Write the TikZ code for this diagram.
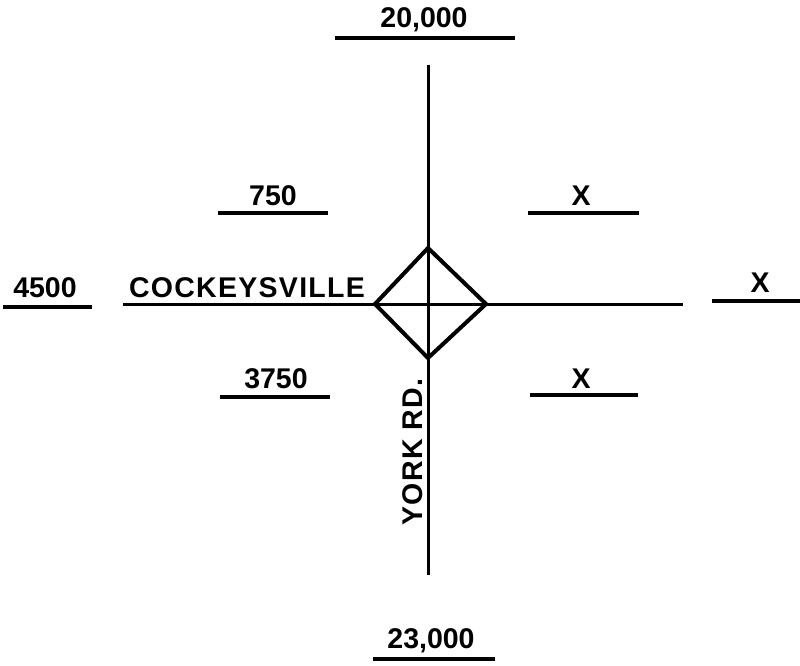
\documentclass[tikz,border=0pt]{standalone}
\usepackage{fontspec}
\setmainfont{Liberation Sans}
\newfontfamily\numfont{Liberation Sans Bold}
\newfontfamily\wordfont{Liberation Sans Bold}[LetterSpace=4.5]
\begin{document}
\begin{tikzpicture}[x=1pt,y=-1pt,
  lbl/.style={anchor=base,inner sep=0pt,font=\fontsize{28.5}{30}\numfont},
  word/.style={anchor=base,inner sep=0pt,font=\fontsize{28.5}{30}\wordfont},
  road/.style={line width=3pt},
  uline/.style={line width=3.4pt},
  ramp/.style={line width=4pt,line join=miter}]
\useasboundingbox (0,0) rectangle (800,666);

% roads
\coordinate (n) at (428,65);
\coordinate (s) at (428,575);
\coordinate (w) at (123,304);
\coordinate (e) at (683,304);
\draw[road] (n) -- (s);
\draw[road] (w) -- (e);

% interchange
\coordinate (dt) at (428,248);
\coordinate (dr) at (486,304);
\coordinate (db) at (428,358);
\coordinate (dl) at (375,304);
\draw[ramp] (dt) -- (dr) -- (db) -- (dl) -- cycle;

% road names
\node[word] (cville) at (247,297) {COCKEYSVILLE};
\node[word,rotate=90] (york) at (422,452) {YORK RD.};

% volumes
\node[lbl] (north) at (424,28) {20,000};
\draw[uline] (335,38) -- (515,38);
\node[lbl] (south) at (431,648) {23,000};
\draw[uline] (373,659) -- (495,659);
\node[lbl] (west) at (45,297) {4500};
\draw[uline] (3,307) -- (92,307);
\node[lbl] (east) at (760,292) {X};
\draw[uline] (712,301) -- (800,301);
\node[lbl] (nw) at (273,205) {750};
\draw[uline] (218,213) -- (328,213);
\node[lbl] (ne) at (581,205) {X};
\draw[uline] (528,213) -- (639,213);
\node[lbl] (sw) at (276,388) {3750};
\draw[uline] (220,397) -- (330,397);
\node[lbl] (se) at (581,388) {X};
\draw[uline] (530,395) -- (638,395);
\end{tikzpicture}
\end{document}
